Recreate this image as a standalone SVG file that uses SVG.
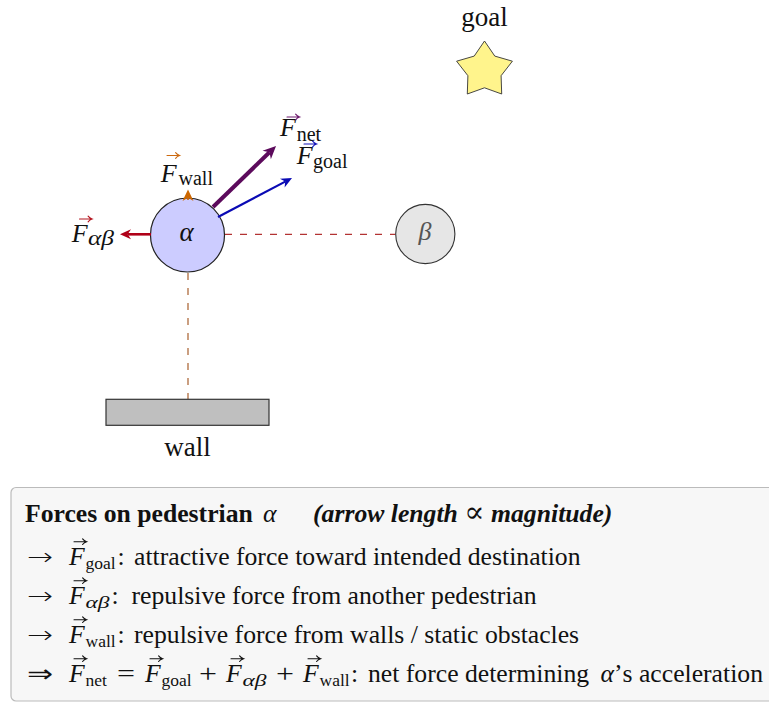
<svg xmlns="http://www.w3.org/2000/svg" xmlns:xlink="http://www.w3.org/1999/xlink" width="769" height="704" viewBox="0 0 769 704">
<style>
text{font-family:"Liberation Serif","DejaVu Serif",serif;fill:#111;}
.lab{font-size:27px;}
.F{font-size:26px;font-style:italic;}
.sub{font-size:20px;}
.lg{font-size:25.7px;}
.lgF{font-size:25.7px;font-style:italic;}
.lgs{font-size:17.5px;}
.it{font-style:italic;}
.sym{font-family:"DejaVu Sans",sans-serif;font-size:24px;font-weight:200;}
.cblue{fill:#1414b8;color:#1414b8;}
.cred{fill:#b4141e;color:#b4141e;}
.corange{fill:#cc6a10;color:#cc6a10;}
.cpurple{fill:#6e1a6e;color:#6e1a6e;}
.cpurple2{fill:#800080;color:#800080;}
</style>
<defs>
<path id="vec" d="M0,0 H12 M8.6,-2.8 Q10,-0.9 12.6,0 Q10,0.9 8.6,2.8" fill="none" stroke="currentColor" stroke-width="1.1" stroke-linecap="round"/>
<marker id="hnet" markerUnits="userSpaceOnUse" markerWidth="14" markerHeight="14" viewBox="0 -7 14 14" refX="3.9" refY="0" orient="auto" overflow="visible"><path d="M0,-6 L13,0 L0,6 L3.9,0 Z" fill="#5c0a5c"/></marker>
<marker id="hgoal" markerUnits="userSpaceOnUse" markerWidth="12" markerHeight="12" viewBox="0 -6 12 12" refX="3.3" refY="0" orient="auto" overflow="visible"><path d="M0,-5 L11,0 L0,5 L3.3,0 Z" fill="#0a0ab4"/></marker>
<marker id="hab" markerUnits="userSpaceOnUse" markerWidth="12" markerHeight="12" viewBox="0 -6 12 12" refX="3.3" refY="0" orient="auto" overflow="visible"><path d="M0,-5 L11,0 L0,5 L3.3,0 Z" fill="#b00018"/></marker>
<marker id="hwall" markerUnits="userSpaceOnUse" markerWidth="12" markerHeight="12" viewBox="0 -6 12 12" refX="3.3" refY="0" orient="auto" overflow="visible"><path d="M0,-5.5 L11.5,0 L0,5.5 L3.3,0 Z" fill="#cc6600"/></marker>
</defs>

<g id="connectors">
<line x1="225" y1="234.3" x2="395.5" y2="234.3" stroke="#a00000" stroke-width="1" stroke-dasharray="7 8"/>
<line x1="188" y1="273" x2="188" y2="399" stroke="#a0501a" stroke-width="1.1" stroke-dasharray="7 8"/>
</g>

<g id="goal">
<polygon points="484.5,41 494.8,56.1 512.4,61.2 501.1,75.7 501.7,94 484.5,87.8 467.3,94 467.9,75.7 456.6,61.2 474.2,56.1" fill="#fff48c" stroke="#333" stroke-width="0.9"/>
<text class="lab" x="484.5" y="26" text-anchor="middle">goal</text>
</g>

<g id="wall">
<rect x="106" y="399.3" width="163" height="26" fill="#bfbfbf" stroke="#333" stroke-width="1.2"/>
<text class="lab" x="187.5" y="456" text-anchor="middle">wall</text>
</g>

<g id="beta">
<circle cx="425.3" cy="234" r="29.6" fill="#e6e6e6" stroke="#333" stroke-width="1.1"/>
<text x="425" y="240" font-size="26" class="it" text-anchor="middle" style="fill:#555">β</text>
</g>

<g id="alpha">
<circle cx="187.5" cy="235" r="37" fill="#ccccff" stroke="#222" stroke-width="1.2"/>
<text x="186.5" y="241" font-size="27" class="it" text-anchor="middle">α</text>
</g>

<g id="forces">
<line x1="213" y1="207" x2="269.5" y2="152.3" stroke="#5c0a5c" stroke-width="4" marker-end="url(#hnet)"/>
<line x1="218" y1="217" x2="285.2" y2="181.6" stroke="#0a0ab4" stroke-width="2.2" marker-end="url(#hgoal)"/>
<line x1="151" y1="234.3" x2="127.7" y2="234.3" stroke="#b00018" stroke-width="2.6" marker-end="url(#hab)"/>
<line x1="188" y1="200" x2="188" y2="197.7" stroke="#cc6600" stroke-width="1.6" marker-end="url(#hwall)"/>
</g>

<g id="label-net" class="cpurple">
<text class="F" x="280" y="136">F</text><text class="sub" x="296.7" y="140.7">net</text>
<use href="#vec" x="287" y="117"/>
</g>
<g id="label-goal" class="cblue">
<text class="F" x="296.7" y="164">F</text><text class="sub" x="313" y="167.5">goal</text>
<use href="#vec" x="304" y="144"/>
</g>
<g id="label-wall" class="corange">
<text class="F" x="160.7" y="181.7">F</text><text class="sub" x="178.5" y="185">wall</text>
<use href="#vec" x="167" y="155.5"/>
</g>
<g id="label-ab" class="cred">
<text class="F" x="71.7" y="241.7">F</text><text class="sub it" x="88" y="245" textLength="26" lengthAdjust="spacingAndGlyphs">αβ</text>
<use href="#vec" x="79.5" y="219"/>
</g>

<g id="legend">
<rect x="11" y="487.5" width="790" height="213.5" rx="5" fill="#f7f7f7" stroke="#bbbbbb" stroke-width="1.2"/>
<text class="lg" x="25" y="521.7" font-weight="bold">Forces on pedestrian</text>
<text class="lg it" x="263" y="521.7">α</text>
<text class="lg" x="313" y="521.7" font-weight="bold" font-style="italic">(arrow length <tspan font-weight="normal" font-style="normal" font-family="DejaVu Serif" font-size="30">∝</tspan> magnitude)</text>

<g class="cblue"><text class="sym" x="27" y="565" textLength="26" lengthAdjust="spacingAndGlyphs">→</text></g>
<text class="lgF" x="69" y="565">F</text><text class="lgs" x="85.5" y="569">goal</text>
<use href="#vec" x="74" y="541.7" style="color:#111"/>
<text class="lg" x="117.5" y="565">:</text><text class="lg" x="134" y="565">attractive force toward intended destination</text>

<g class="cred"><text class="sym" x="27" y="604" textLength="26" lengthAdjust="spacingAndGlyphs">→</text></g>
<text class="lgF" x="69" y="604">F</text><text class="lgs it" x="85.5" y="608" textLength="24" lengthAdjust="spacingAndGlyphs">αβ</text>
<use href="#vec" x="74" y="580.7" style="color:#111"/>
<text class="lg" x="111.5" y="604">:</text><text class="lg" x="131.5" y="604">repulsive force from another pedestrian</text>

<g class="corange"><text class="sym" x="27" y="643" textLength="26" lengthAdjust="spacingAndGlyphs">→</text></g>
<text class="lgF" x="69" y="643">F</text><text class="lgs" x="85.5" y="647">wall</text>
<use href="#vec" x="74" y="619.7" style="color:#111"/>
<text class="lg" x="117.5" y="643">:</text><text class="lg" x="134" y="643">repulsive force from walls / static obstacles</text>

<g class="cpurple2"><text class="sym" x="27" y="682" textLength="26" lengthAdjust="spacingAndGlyphs">⇒</text></g>
<text class="lgF" x="69" y="682">F</text><text class="lgs" x="85.5" y="686">net</text>
<use href="#vec" x="74" y="658.7" style="color:#111"/>
<text class="lg" x="117" y="682" textLength="18" lengthAdjust="spacingAndGlyphs">=</text>
<text class="lgF" x="145" y="682">F</text><text class="lgs" x="161.5" y="686">goal</text>
<use href="#vec" x="150" y="658.7" style="color:#111"/>
<text class="lg" x="199" y="682" textLength="18" lengthAdjust="spacingAndGlyphs">+</text>
<text class="lgF" x="226" y="682">F</text><text class="lgs it" x="242.5" y="686" textLength="24" lengthAdjust="spacingAndGlyphs">αβ</text>
<use href="#vec" x="231" y="658.7" style="color:#111"/>
<text class="lg" x="276" y="682" textLength="18" lengthAdjust="spacingAndGlyphs">+</text>
<text class="lgF" x="303" y="682">F</text><text class="lgs" x="319.5" y="686">wall</text>
<use href="#vec" x="308" y="658.7" style="color:#111"/>
<text class="lg" x="351" y="682">:</text><text class="lg" x="368" y="682">net force determining</text>
<text class="lg" x="763" y="682" text-anchor="end"><tspan class="it">α</tspan>’s acceleration</text>
</g>
</svg>
